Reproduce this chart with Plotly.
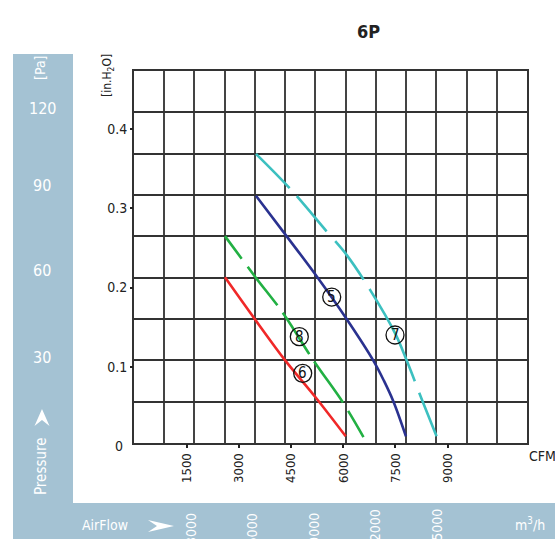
import plotly.graph_objects as go

# ---------------- data ----------------
cfm_ticks = [1500, 3000, 4500, 6000, 7500, 9000]
pres_ticks = [0.1, 0.2, 0.3, 0.4]
m3h_ticks = [3000, 6000, 9000, 12000, 15000]
pa_ticks = [120, 90, 60, 30]

c5_cfm = [3490, 4370, 5240, 6100, 6860, 7170, 7440, 7800]
c5_p = [0.316, 0.265, 0.214, 0.160, 0.108, 0.082, 0.056, 0.012]
c6_cfm = [2600, 3460, 4330, 5190, 6070]
c6_p = [0.213, 0.160, 0.108, 0.062, 0.012]
c7_cfm = [3490, 4470, 5520, 6100, 6770, 7490, 7820, 8280, 8680]
c7_p = [0.369, 0.325, 0.271, 0.241, 0.197, 0.142, 0.108, 0.056, 0.012]
c8_cfm = [2600, 3460, 4280, 5140, 6000, 6580]
c8_p = [0.265, 0.214, 0.167, 0.108, 0.054, 0.011]

curve_labels = ["5", "6", "7", "8"]
label_cfm = [5667, 4833, 7486, 4736]
label_p = [0.188, 0.0916, 0.140, 0.1379]

# ---------------- layout geometry ----------------
W, H = 555, 539
ML, MR, MT, MB = 134, 28, 71, 96
PW, PH = W - ML - MR, H - MT - MB
XR = [-14.4, 11279]
YR = [0.00354, 0.47365]
FONT = "DejaVu Sans Condensed, Liberation Sans Narrow, Liberation Sans, Arial, sans-serif"
BAND = "#a4c2d3"


def X(px):
    return (px - ML) / PW


def Y(py):
    return (H - MB - py) / PH


fig = go.Figure()

fig.add_trace(go.Scatter(x=c7_cfm, y=c7_p, mode="lines",
                         line=dict(color="#3cc0c0", width=2.6, shape="spline",
                                   dash="48px,11px,46px,13px,48px,11px,103px,12px,60px"), hoverinfo="skip"))
fig.add_trace(go.Scatter(x=c5_cfm, y=c5_p, mode="lines", line=dict(color="#2a3290", width=2.6, shape="spline"), hoverinfo="skip"))
fig.add_trace(go.Scatter(x=c8_cfm, y=c8_p, mode="lines",
                         line=dict(color="#22b043", width=2.6, shape="spline",
                                   dash="28px,10px,49px,9px,49px,9px,50px,10px,60px"), hoverinfo="skip"))
fig.add_trace(go.Scatter(x=c6_cfm, y=c6_p, mode="lines", line=dict(color="#f02828", width=2.6, shape="spline"), hoverinfo="skip"))
# helper trace for the tick axes
fig.add_trace(go.Scatter(x=[None], y=[None], xaxis="x2", yaxis="y2", hoverinfo="skip"))

shapes = []
annotations = []

# side bands
shapes.append(dict(type="rect", xref="paper", yref="paper", x0=X(13), x1=X(73), y0=Y(54), y1=Y(H + 2),
                   fillcolor=BAND, line=dict(width=0), layer="below"))
shapes.append(dict(type="rect", xref="paper", yref="paper", x0=X(13), x1=X(W + 2), y0=Y(503), y1=Y(H + 2),
                   fillcolor=BAND, line=dict(width=0), layer="below"))


def arrow_path(pts):
    s = "M %f,%f" % (X(pts[0][0]), Y(pts[0][1]))
    for p in pts[1:]:
        s += " L %f,%f" % (X(p[0]), Y(p[1]))
    return s + " Z"


shapes.append(dict(type="path", xref="paper", yref="paper",
                   path=arrow_path([(42, 409), (49.5, 426), (42, 420), (34.5, 426)]),
                   fillcolor="white", line=dict(width=0)))
shapes.append(dict(type="path", xref="paper", yref="paper",
                   path=arrow_path([(174, 526), (148, 520), (157, 526), (148, 532)]),
                   fillcolor="white", line=dict(width=0)))

# circled curve labels
for t, cx, cy in zip(curve_labels, label_cfm, label_p):
    shapes.append(dict(type="circle", xref="x", yref="y", xsizemode="pixel", ysizemode="pixel",
                       xanchor=cx, yanchor=cy, x0=-9, x1=9, y0=-9, y1=9,
                       line=dict(color="#111", width=1.3)))
    annotations.append(dict(x=cx, y=cy, xref="x", yref="y", text=t, showarrow=False,
                            font=dict(size=15, color="#111", family=FONT), xanchor="center", yanchor="middle"))

# title
annotations.append(dict(x=X(368), y=Y(31), xref="paper", yref="paper", text="<b>6P</b>", showarrow=False,
                        font=dict(size=18, color="#222", family=FONT), xanchor="center", yanchor="middle"))
# axis labels
annotations.append(dict(x=X(108), y=Y(76), xref="paper", yref="paper", text="[in.H<sub>2</sub>O]", showarrow=False,
                        textangle=-90, font=dict(size=12, color="#222", family=FONT), xanchor="center", yanchor="middle"))
annotations.append(dict(x=X(119), y=Y(446), xref="paper", yref="paper", text="0", showarrow=False,
                        font=dict(size=14, color="#222", family=FONT), xanchor="center", yanchor="middle"))
annotations.append(dict(x=X(527), y=Y(456), xref="paper", yref="paper", text="CFM", showarrow=False,
                        font=dict(size=14, color="#222", family=FONT), xanchor="left", yanchor="middle"))

# Pa band labels
pa_label_y = [108, 185, 270, 357]
annotations.append(dict(x=X(40), y=Y(68), xref="paper", yref="paper", text="[Pa]", showarrow=False,
                        textangle=-90, font=dict(size=14, color="white", family=FONT), xanchor="center", yanchor="middle"))
for v, py in zip(pa_ticks, pa_label_y):
    annotations.append(dict(x=X(42), y=Y(py), xref="paper", yref="paper", text=str(v), showarrow=False,
                            font=dict(size=16, color="white", family=FONT), xanchor="center", yanchor="middle"))
annotations.append(dict(x=X(41), y=Y(466), xref="paper", yref="paper", text="Pressure", showarrow=False,
                        textangle=-90, font=dict(size=15, color="white", family=FONT), xanchor="center", yanchor="middle"))

# AirFlow band labels
annotations.append(dict(x=X(105), y=Y(525), xref="paper", yref="paper", text="AirFlow", showarrow=False,
                        font=dict(size=14, color="white", family=FONT), xanchor="center", yanchor="middle"))
annotations.append(dict(x=X(530), y=Y(524), xref="paper", yref="paper", text="m<sup>3</sup>/h", showarrow=False,
                        font=dict(size=14, color="white", family=FONT), xanchor="center", yanchor="middle"))
for v in m3h_ticks:
    annotations.append(dict(x=v / 1.699, y=Y(529), xref="x", yref="paper", text=str(v), showarrow=False, xshift=-5,
                            textangle=-90, font=dict(size=14, color="white", family=FONT), xanchor="center", yanchor="middle"))

fig.update_layout(
    width=W, height=H, autosize=False,
    margin=dict(l=ML, r=MR, t=MT, b=MB, pad=0),
    paper_bgcolor="white", plot_bgcolor="white",
    showlegend=False,
    font=dict(family=FONT, size=14, color="#222"),
    xaxis=dict(range=XR, tick0=XR[0], dtick=(XR[1] - XR[0]) / 13, showticklabels=False, ticks="",
               showgrid=True, gridcolor="#444", gridwidth=1.6, zeroline=False,
               showline=True, linecolor="#333", linewidth=2, mirror=True, fixedrange=True),
    yaxis=dict(range=YR, tick0=YR[0], dtick=(YR[1] - YR[0]) / 9, showticklabels=False, ticks="",
               showgrid=True, gridcolor="#333", gridwidth=1.6, zeroline=False,
               showline=True, linecolor="#333", linewidth=1.8, mirror=True, fixedrange=True),
    xaxis2=dict(range=XR, overlaying="x", anchor="y", side="bottom", tickmode="array",
                tickvals=cfm_ticks, ticktext=[str(v) for v in cfm_ticks], ticks="outside", ticklen=4,
                tickwidth=2, tickcolor="#222", tickangle=-90, showgrid=False, zeroline=False, showline=False,
                tickfont=dict(size=13, color="#222", family=FONT), fixedrange=True),
    yaxis2=dict(range=YR, overlaying="y", anchor="x", side="left", tickmode="array",
                tickvals=pres_ticks, ticktext=[str(v) for v in pres_ticks], ticks="outside", ticklen=3,
                tickwidth=2, tickcolor="#222", showgrid=False, zeroline=False, showline=False,
                tickfont=dict(size=14, color="#222", family=FONT), fixedrange=True),
    shapes=shapes,
    annotations=annotations,
)

fig.write_html("out.html", config={"displayModeBar": False},
               post_script="document.body.style.margin='0';document.body.style.overflow='hidden';")
